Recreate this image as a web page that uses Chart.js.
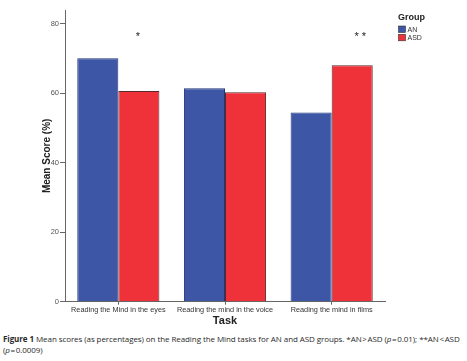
<!DOCTYPE html>
<html>
<head>
<meta charset="utf-8">
<script src="https://cdn.jsdelivr.net/npm/chart.js@4/dist/chart.umd.min.js"></script>
<style>
  html, body { margin: 0; padding: 0; background: #fff; }
  #wrap { width: 467px; height: 361px; position: relative; overflow: hidden; }
  #chart { display: block; }
  .caption {
    margin: 4px 0 0 3px;
    font-family: "Open Sans", "Noto Sans", sans-serif;
    font-size: 8px;
    letter-spacing: -0.08px;
    line-height: 10.5px;
    color: #2a2a2a;
    white-space: nowrap;
  }
  .caption b { font-weight: 700; }
</style>
</head>
<body>
<div id="wrap">
  <canvas id="chart" width="467" height="330"></canvas>
  <div class="caption"><b>Figure 1</b> Mean scores (as percentages) on the Reading the Mind tasks for AN and ASD groups. *AN&#8202;&gt;&#8202;ASD (<i>p</i>&#8202;=&#8202;0.01); **AN&#8202;&lt;&#8202;ASD<br>(<i>p</i>&#8202;=&#8202;0.0009)</div>
</div>
<script>
// data
const tasks = ["Reading the Mind in the eyes", "Reading the mind in the voice", "Reading the mind in films"];
const anScores = [70.1, 61.5, 54.5];
const asdScores = [60.7, 60.3, 68.1];
const sigMarks = ["*", "", "* *"];
const yTicks = [0, 20, 40, 60, 80];

const $ = (id) => document.getElementById(id);

const BLUE = "#3d56a6";
const RED = "#ef323a";
const AXIS = "#666";
const LABEL_FONT = "'Liberation Sans', Arial, sans-serif";

// asterisks above the ASD bars
const sigPlugin = {
  id: "sig",
  afterDatasetsDraw(chart) {
    const ctx = chart.ctx;
    const meta = chart.getDatasetMeta(1);
    const y = chart.scales.y.getPixelForValue(77.2);
    ctx.save();
    ctx.fillStyle = "#222";
    ctx.font = `11px ${LABEL_FONT}`;
    ctx.textAlign = "center";
    ctx.textBaseline = "middle";
    sigMarks.forEach((m, i) => {
      if (!m) return;
      const bar = meta.data[i];
      const shift = m.length > 1 ? 8 : -1;
      ctx.fillText(m, bar.x + shift, y + 3);
    });
    ctx.restore();
  },
};

// SPSS-style legend on the right
const legendPlugin = {
  id: "groupLegend",
  afterDraw(chart) {
    const ctx = chart.ctx;
    const x0 = chart.chartArea.right + 13;
    ctx.save();
    ctx.fillStyle = "#222";
    ctx.font = `bold 9px ${LABEL_FONT}`;
    ctx.textBaseline = "middle";
    ctx.fillText("Group", x0, 17.5);
    ctx.font = `7px ${LABEL_FONT}`;
    chart.data.datasets.forEach((ds, i) => {
      const yTop = 26 + i * 8.3;
      ctx.fillStyle = ds.backgroundColor;
      ctx.fillRect(x0 + 0.5, yTop, 7, 6.5);
      ctx.strokeStyle = "#333";
      ctx.lineWidth = 0.6;
      ctx.strokeRect(x0 + 0.5, yTop, 7, 6.5);
      ctx.fillStyle = "#333";
      ctx.fillText(ds.label, x0 + 9.5, yTop + 3.6);
    });
    ctx.restore();
  },
};

new Chart($("chart").getContext("2d"), {
  type: "bar",
  data: {
    labels: tasks,
    datasets: [
      { label: "AN", data: anScores, backgroundColor: BLUE, borderColor: "#22357a", borderWidth: 1 },
      { label: "ASD", data: asdScores, backgroundColor: RED, borderColor: "#5a2a2a", borderWidth: 1 },
    ],
  },
  options: {
    responsive: false,
    animation: false,
    layout: { padding: { top: 10, right: 82, left: 0, bottom: 0 } },
    datasets: { bar: { categoryPercentage: 0.77, barPercentage: 1.0 } },
    plugins: {
      legend: { display: false },
      tooltip: { enabled: false },
    },
    scales: {
      x: {
        grid: { display: true, drawOnChartArea: false, offset: false, tickLength: 3, color: AXIS },
        border: { display: true, color: AXIS, width: 1 },
        ticks: {
          color: "#333",
          font: { family: LABEL_FONT, size: 7.3 },
          padding: 1,
          maxRotation: 0,
          autoSkip: false,
        },
        title: {
          display: true,
          text: "Task",
          color: "#222",
          font: { family: LABEL_FONT, size: 11, weight: "bold" },
          padding: { top: 0, bottom: 2 },
        },
        afterFit(scale) { scale.height = 28.3; },
      },
      y: {
        min: 0,
        max: 84,
        grid: { display: true, drawOnChartArea: false, tickLength: 5, color: AXIS },
        border: { display: true, color: AXIS, width: 1 },
        ticks: {
          color: "#555",
          font: { family: LABEL_FONT, size: 7.5 },
          padding: 1,
        },
        afterBuildTicks(scale) {
          scale.ticks = yTicks.map((v) => ({ value: v }));
        },
        title: {
          display: true,
          text: "Mean Score (%)",
          color: "#222",
          font: { family: LABEL_FONT, size: 10, weight: "bold" },
          padding: { top: 41, bottom: 0 },
        },
        afterFit(scale) { scale.width = 65; },
      },
    },
  },
  plugins: [sigPlugin, legendPlugin],
});
</script>
</body>
</html>
